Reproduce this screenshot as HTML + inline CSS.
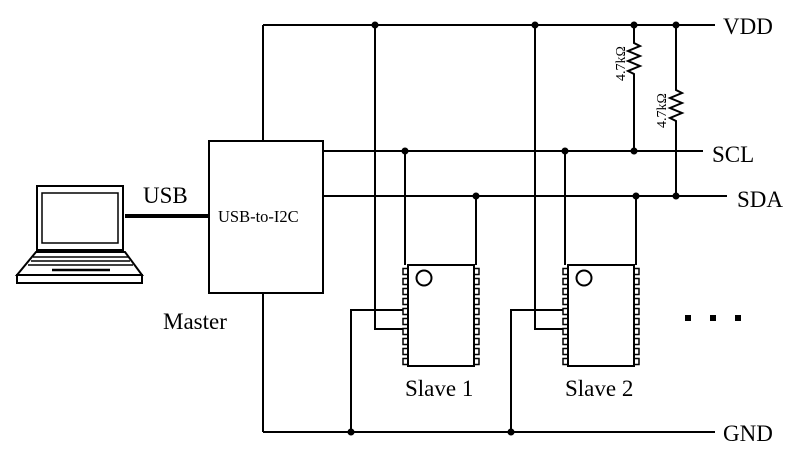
<!DOCTYPE html>
<html><head><style>body{margin:0;background:#fff}svg{display:block}text{font-family:"Liberation Serif",serif;fill:#000}</style></head><body>
<svg width="800" height="450" viewBox="0 0 800 450" stroke="#000" stroke-width="2" fill="none">
<line x1="263" y1="25" x2="715" y2="25"/>
<line x1="323" y1="151" x2="703" y2="151"/>
<line x1="323" y1="196" x2="727" y2="196"/>
<line x1="263" y1="432" x2="715" y2="432"/>
<line x1="263" y1="25" x2="263" y2="141"/>
<line x1="263" y1="293" x2="263" y2="432"/>
<rect x="209" y="141" width="114" height="152"/>
<polyline points="634,25 634,43 640,46 628,51 640,56 628,61 640,66 628,71 634,74 634,151"/>
<polyline points="676,25 676,90 682,93 670,98 682,103 670,108 682,113 670,118 676,121 676,196"/>
<g fill="#000" stroke="none">
<circle cx="375" cy="25" r="3.5"/><circle cx="535" cy="25" r="3.5"/><circle cx="634" cy="25" r="3.5"/><circle cx="676" cy="25" r="3.5"/>
<circle cx="405" cy="151" r="3.5"/><circle cx="565" cy="151" r="3.5"/><circle cx="634" cy="151" r="3.5"/>
<circle cx="476" cy="196" r="3.5"/><circle cx="636" cy="196" r="3.5"/><circle cx="676" cy="196" r="3.5"/>
<circle cx="351" cy="432" r="3.5"/><circle cx="511" cy="432" r="3.5"/>
<rect x="685" y="315" width="6" height="6"/><rect x="710" y="315" width="6" height="6"/><rect x="735" y="315" width="6" height="6"/>
</g>
<g id="s">
<line x1="405" y1="151" x2="405" y2="265"/>
<line x1="476" y1="196" x2="476" y2="265"/>
<polyline points="375,25 375,329 403,329"/>
<polyline points="351,432 351,310 403,310"/>
<rect x="408" y="265" width="66" height="101"/>
<circle cx="424" cy="278" r="7.5"/>
<g stroke-width="1.5">
<rect x="403" y="268.5" width="5" height="6"/><rect x="403" y="278.5" width="5" height="6"/><rect x="403" y="288.5" width="5" height="6"/><rect x="403" y="298.5" width="5" height="6"/><rect x="403" y="308.5" width="5" height="6"/><rect x="403" y="318.5" width="5" height="6"/><rect x="403" y="328.5" width="5" height="6"/><rect x="403" y="338.5" width="5" height="6"/><rect x="403" y="348.5" width="5" height="6"/><rect x="403" y="358.5" width="5" height="6"/>
<rect x="474" y="268.5" width="5" height="6"/><rect x="474" y="278.5" width="5" height="6"/><rect x="474" y="288.5" width="5" height="6"/><rect x="474" y="298.5" width="5" height="6"/><rect x="474" y="308.5" width="5" height="6"/><rect x="474" y="318.5" width="5" height="6"/><rect x="474" y="328.5" width="5" height="6"/><rect x="474" y="338.5" width="5" height="6"/><rect x="474" y="348.5" width="5" height="6"/><rect x="474" y="358.5" width="5" height="6"/>
</g>
</g>
<use href="#s" x="160"/>
<rect x="37" y="186" width="86" height="64"/>
<rect x="42" y="193" width="76" height="50" stroke-width="1.5"/>
<polygon points="36,252 125,252 142,275 17,275"/>
<rect x="17" y="275" width="125" height="8"/>
<line x1="33" y1="257" x2="128" y2="257" stroke-width="1.5"/>
<line x1="31" y1="261" x2="130" y2="261" stroke-width="1.5"/>
<line x1="28" y1="265" x2="133" y2="265" stroke-width="1.5"/>
<line x1="52" y1="270" x2="110" y2="270" stroke-width="2.5"/>
<line x1="125" y1="216" x2="209" y2="216" stroke-width="4"/>
<g stroke="none">
<text x="143" y="203" font-size="23">USB</text>
<text x="218" y="222" font-size="16.5">USB-to-I2C</text>
<text x="163" y="329" font-size="23">Master</text>
<text x="405" y="396" font-size="23">Slave 1</text>
<text x="565" y="396" font-size="23">Slave 2</text>
<text x="723" y="34" font-size="23">VDD</text>
<text x="712" y="162" font-size="23">SCL</text>
<text x="737" y="207" font-size="23">SDA</text>
<text x="723" y="441" font-size="23">GND</text>
<text font-size="14" transform="translate(625,81) rotate(-90)">4.7kΩ</text>
<text font-size="14" transform="translate(666,128) rotate(-90)">4.7kΩ</text>
</g>
</svg>
</body></html>
